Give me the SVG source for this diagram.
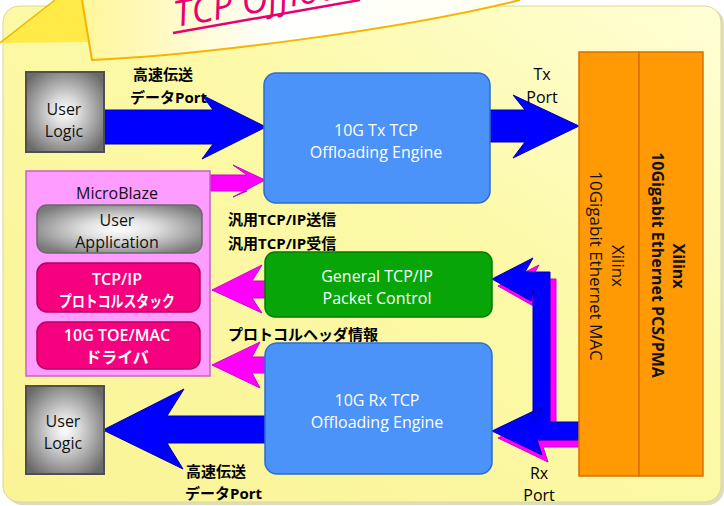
<svg xmlns="http://www.w3.org/2000/svg" width="724" height="506" viewBox="0 0 724 506">
<defs>
  <linearGradient id="panelG" x1="0" y1="1" x2="1" y2="0">
    <stop offset="0" stop-color="#FAF496"/>
    <stop offset="0.6" stop-color="#FCF9A8"/>
    <stop offset="1" stop-color="#FFFFD6"/>
  </linearGradient>
  <linearGradient id="bannerG" x1="0" y1="0" x2="1" y2="0">
    <stop offset="0" stop-color="#FFF69A"/>
    <stop offset="0.45" stop-color="#FFFFFF"/>
    <stop offset="1" stop-color="#FFFFF0"/>
  </linearGradient>
  <radialGradient id="greyG" cx="0.5" cy="0.5" r="0.62">
    <stop offset="0" stop-color="#FFFFFF"/>
    <stop offset="0.3" stop-color="#DADADA"/>
    <stop offset="1" stop-color="#6A6A6A"/>
  </radialGradient>
  <radialGradient id="appG" cx="0.5" cy="0.5" r="0.6">
    <stop offset="0" stop-color="#FFFFFF"/>
    <stop offset="0.35" stop-color="#E2E2E2"/>
    <stop offset="1" stop-color="#7A7A7A"/>
  </radialGradient>
</defs>
<style>
  text { font-family: "Open Sans", "Noto Sans CJK JP", sans-serif; }
  .blk { fill: #111; font-size: 16px; font-weight: 500; text-anchor: middle; }
  .wht { fill: #FFFFFF; font-size: 16px; font-weight: 500; text-anchor: middle; }
  .whb { fill: #FFFFFF; font-size: 16px; text-anchor: middle; font-weight: 600; }
  .lbl { fill: #000; font-size: 15px; font-weight: 700; }
  .port { fill: #000; font-size: 16px; font-weight: 500; text-anchor: middle; }
  .grey { fill: url(#greyG); stroke: #4F4F4F; stroke-width: 2; }
  .app { fill: url(#appG); stroke: #6A6A6A; stroke-width: 1.5; }
  .pinkbox { fill: #F5007F; stroke: #B8005C; stroke-width: 1.5; }
  .bluebox { fill: #4B92F9; stroke: #2E6CD0; stroke-width: 1.5; }
  .greenbox { fill: #07A507; stroke: #037A03; stroke-width: 1.5; }
  .orange { fill: #FF9A05; stroke: #D97000; stroke-width: 1.5; }
  .barrow { fill: #0000FF; stroke: #0000A8; stroke-width: 1; }
  .parrow { fill: #FF00FF; stroke: #D000D0; stroke-width: 1; }
  .vtxt { fill: #111; text-anchor: middle; }
</style>

<!-- background panel -->
<rect x="6" y="8" width="718" height="497" rx="16" fill="#C9C49A" opacity="0.6"/>
<rect x="3" y="6" width="718" height="496" rx="16" fill="url(#panelG)" stroke="#DCD796" stroke-width="1"/>

<!-- title banner -->
<g id="banner">
  <polygon points="0,43 55,0 82,0 90,42" fill="#FFEA48"/>
  <line x1="0" y1="43" x2="55" y2="0" stroke="#F2B600" stroke-width="1.5"/>
  <path d="M82,0 L92,60 C200,55 400,30 520,0 Z" fill="url(#bannerG)"/>
  <path d="M82,0 L92,60 C200,55 400,30 520,0" fill="none" stroke="#F4B400" stroke-width="2"/>
  <text x="176" y="27" transform="rotate(-10 176 27)" font-size="36" font-style="italic" fill="#E8006E">TCP Offload</text>
  <line x1="173" y1="33" x2="360" y2="0" stroke="#E8006E" stroke-width="2.5"/>
</g>

<!-- connectors -->
<g id="connectors">
  <polygon class="barrow" points="104,110 213,110 202,95 266,127 202,159 213,144 104,144"/>
  <polygon class="barrow" points="490,110 525,110 513,95 579,126 513,158 525,142 490,142"/>
  <polygon class="parrow" points="210,175 247,175 233,165 265,180 233,197 247,191 210,191"/>
  <polygon class="parrow" points="266,281 252,281 262,265 212,290 262,313 252,298 266,298"/>
  <polygon class="parrow" points="266,357 252,357 260,342 212,365 260,388 252,373 266,373"/>
  <polygon class="barrow" points="266,416 167,416 184,389 103,430 183,469 167,443 266,443"/>
  <g transform="translate(6,7)">
    <polygon class="parrow" points="492,279 533,258 525,272 550,272 550,422 580,422 580,440 537,440 542,455 492,431 542,407 535,422 533,422 533,290 531,301"/>
  </g>
  <polygon class="barrow" points="492,279 533,258 525,272 550,272 550,422 580,422 580,440 537,440 542,455 492,431 542,407 535,422 533,422 533,290 531,301"/>
</g>

<!-- nodes -->
<g id="user-logic-top">
  <rect class="grey" x="26" y="72" width="78" height="80"/>
  <text class="blk" x="64" y="115">User</text>
  <text class="blk" x="64" y="137">Logic</text>
</g>

<g id="user-logic-bottom">
  <rect class="grey" x="26" y="386" width="78" height="88"/>
  <text class="blk" x="63" y="427">User</text>
  <text class="blk" x="63" y="449">Logic</text>
</g>

<g id="microblaze">
  <rect x="26" y="171" width="184" height="205" fill="#FF9CFF" stroke="#C464C4" stroke-width="1.5"/>
  <text class="blk" x="117" y="199">MicroBlaze</text>
</g>

<g id="user-application">
  <rect class="app" x="37" y="205" width="165" height="48" rx="10"/>
  <text class="blk" x="117" y="226">User</text>
  <text class="blk" x="117" y="248">Application</text>
</g>

<g id="tcpip-stack">
  <rect class="pinkbox" x="37" y="263" width="163" height="49" rx="10"/>
  <text class="whb" x="117" y="285">TCP/IP</text>
  <text class="whb" x="117" y="307" font-size="14" textLength="116" lengthAdjust="spacingAndGlyphs">プロトコルスタック</text>
</g>

<g id="toe-mac-driver">
  <rect class="pinkbox" x="37" y="322" width="163" height="47" rx="10"/>
  <text class="whb" x="117" y="341">10G TOE/MAC</text>
  <text class="whb" x="117" y="363" font-size="14">ドライバ</text>
</g>

<g id="tx-engine">
  <rect class="bluebox" x="264" y="73" width="226" height="130" rx="12"/>
  <text class="wht" x="376" y="136">10G Tx TCP</text>
  <text class="wht" x="376" y="158">Offloading Engine</text>
</g>

<g id="general-packet-control">
  <rect class="greenbox" x="265" y="252" width="227" height="65" rx="10"/>
  <text class="wht" x="377" y="282">General TCP/IP</text>
  <text class="wht" x="377" y="304">Packet Control</text>
</g>

<g id="rx-engine">
  <rect class="bluebox" x="265" y="343" width="227" height="131" rx="12"/>
  <text class="wht" x="377" y="406">10G Rx TCP</text>
  <text class="wht" x="377" y="428">Offloading Engine</text>
</g>

<g id="ethernet-mac">
  <rect class="orange" x="579" y="52" width="60" height="424"/>
  <text class="vtxt" font-size="17" transform="translate(612,266) rotate(90)" x="0" y="0">Xilinx</text>
  <text class="vtxt" font-size="17" transform="translate(590,266) rotate(90)" x="0" y="0">10Gigabit Ethernet MAC</text>
</g>

<g id="ethernet-pcs-pma">
  <rect class="orange" x="639" y="52" width="64" height="424"/>
  <text class="vtxt" font-size="16" font-weight="700" transform="translate(673,266) rotate(90)" x="0" y="0">Xilinx</text>
  <text class="vtxt" font-size="16" font-weight="700" transform="translate(652,265) rotate(90)" x="0" y="0">10Gigabit Ethernet PCS/PMA</text>
</g>

<!-- labels -->
<g id="labels">
  <text class="lbl" x="133" y="80" font-size="16">高速伝送</text>
  <text class="lbl" x="130" y="103">データPort</text>
  <text class="port" x="542" y="80">Tx</text>
  <text class="port" x="542" y="103">Port</text>
  <text class="lbl" x="228" y="225">汎用TCP/IP送信</text>
  <text class="lbl" x="228" y="249">汎用TCP/IP受信</text>
  <text class="lbl" x="228" y="340" font-size="14">プロトコルヘッダ情報</text>
  <text class="lbl" x="186" y="477" font-size="16">高速伝送</text>
  <text class="lbl" x="185" y="499">データPort</text>
  <text class="port" x="539" y="479">Rx</text>
  <text class="port" x="539" y="501">Port</text>
</g>
</svg>
